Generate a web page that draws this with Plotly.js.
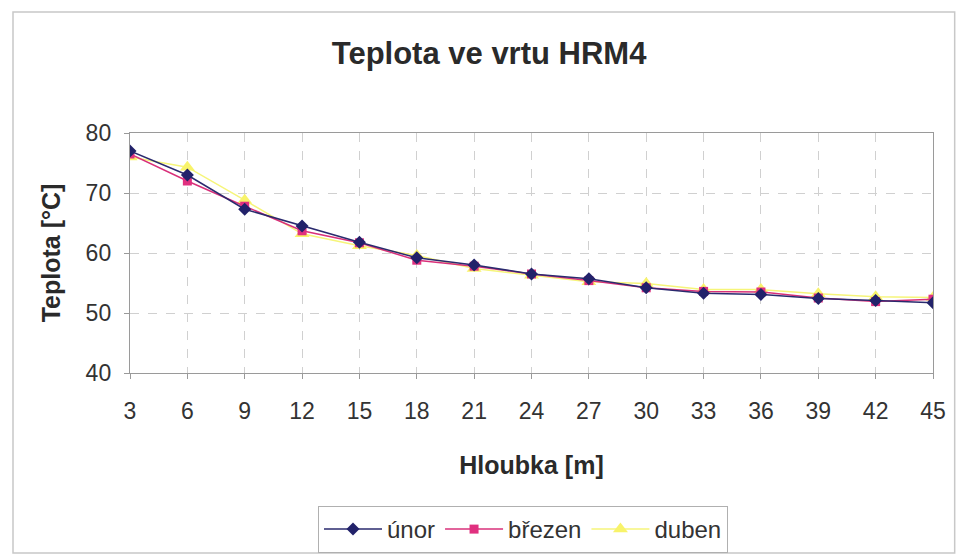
<!DOCTYPE html>
<html>
<head>
<meta charset="utf-8">
<script src="https://cdn.plot.ly/plotly-3.0.1.min.js"></script>
<style>html,body{margin:0;padding:0;background:#fff;}#chart{width:959px;height:556px;}</style>
</head>
<body>
<div id="chart"></div>
<script>
const depths = [3, 6, 9, 12, 15, 18, 21, 24, 27, 30, 33, 36, 39, 42, 45];
const unor   = [77.0, 73.0, 67.3, 64.5, 61.8, 59.2, 58.0, 56.5, 55.7, 54.2, 53.3, 53.1, 52.4, 52.1, 51.7];
const brezen = [76.5, 72.0, 67.8, 63.7, 61.7, 58.8, 57.8, 56.5, 55.4, 54.2, 53.6, 53.5, 52.5, 51.9, 52.3];
const duben  = [76.0, 74.3, 68.8, 63.2, 61.2, 59.6, 57.4, 56.3, 55.2, 54.9, 53.9, 53.9, 53.2, 52.7, 52.6];
const yTicks = [40, 50, 60, 70, 80];

const font = "Liberation Sans, Arial, sans-serif";
const traces = [
  {x: depths, y: duben, name: 'duben', mode: 'lines+markers',
   line: {color: '#f6f57a', width: 1.5},
   marker: {symbol: 'triangle-up', size: 13, color: '#f8f36a'}},
  {x: depths, y: brezen, name: 'březen', mode: 'lines+markers',
   line: {color: '#d8307a', width: 1.5},
   marker: {symbol: 'square', size: 9, color: '#e0307f'}},
  {x: depths, y: unor, name: 'únor', mode: 'lines+markers',
   line: {color: '#2a2a6e', width: 1.5},
   marker: {symbol: 'diamond', size: 10, color: '#22226a'}}
];
const layout = {
  width: 959, height: 556,
  margin: {l: 130, r: 26, t: 133, b: 183, autoexpand: false},
  paper_bgcolor: '#fff', plot_bgcolor: '#fff',
  font: {family: font, color: '#333', size: 23},
  title: {text: '<b>Teplota ve vrtu HRM4</b>', x: 0.51, xanchor: 'center', y: 1 - 53/556, yanchor: 'middle',
          font: {family: font, size: 31, color: '#2a2a2a'}},
  xaxis: {range: [3, 45], tickvals: depths, ticktext: depths.map(String),
          showgrid: true, gridcolor: '#d0d0d0', griddash: 'dash', gridwidth: 1,
          showline: true, linecolor: '#9a9a9a', mirror: true, linewidth: 1.2,
          ticks: 'outside', ticklen: 5, tickcolor: '#9a9a9a', zeroline: false,
          ticklabelstandoff: 12,
          tickfont: {family: font, size: 23, color: '#333'},
          title: {text: '<b>Hloubka [m]</b>', standoff: 33, font: {family: font, size: 25, color: '#2a2a2a'}}},
  yaxis: {range: [40, 80], tickvals: yTicks,
          showgrid: true, gridcolor: '#d0d0d0', griddash: 'dash', gridwidth: 1,
          showline: true, linecolor: '#9a9a9a', mirror: true, linewidth: 1.2,
          ticks: 'outside', ticklen: 5, tickcolor: '#9a9a9a', zeroline: false,
          ticklabelstandoff: 8,
          tickfont: {family: font, size: 23, color: '#333'},
          title: {text: '<b>Teplota [°C]</b>', standoff: 17, font: {family: font, size: 25, color: '#2a2a2a'}}},
  showlegend: true,
  legend: {orientation: 'h', traceorder: 'reversed',
           xref: 'container', yref: 'container', x: 318/959, xanchor: 'left', y: 1 - 506/556, yanchor: 'top',
           itemwidth: 58, bordercolor: '#b0b0b0', borderwidth: 1, bgcolor: '#fff',
           font: {family: font, size: 24, color: '#333'}},
  shapes: [{type: 'rect', xref: 'paper', yref: 'paper', x0: -0.1457, x1: 1.027, y0: -0.75, y1: 1.504,
            line: {color: '#c8c8c8', width: 1.5}, fillcolor: 'rgba(0,0,0,0)', layer: 'below'}]
};
Plotly.newPlot('chart', traces, layout, {displayModeBar: false, staticPlot: true});
</script>
</body>
</html>
